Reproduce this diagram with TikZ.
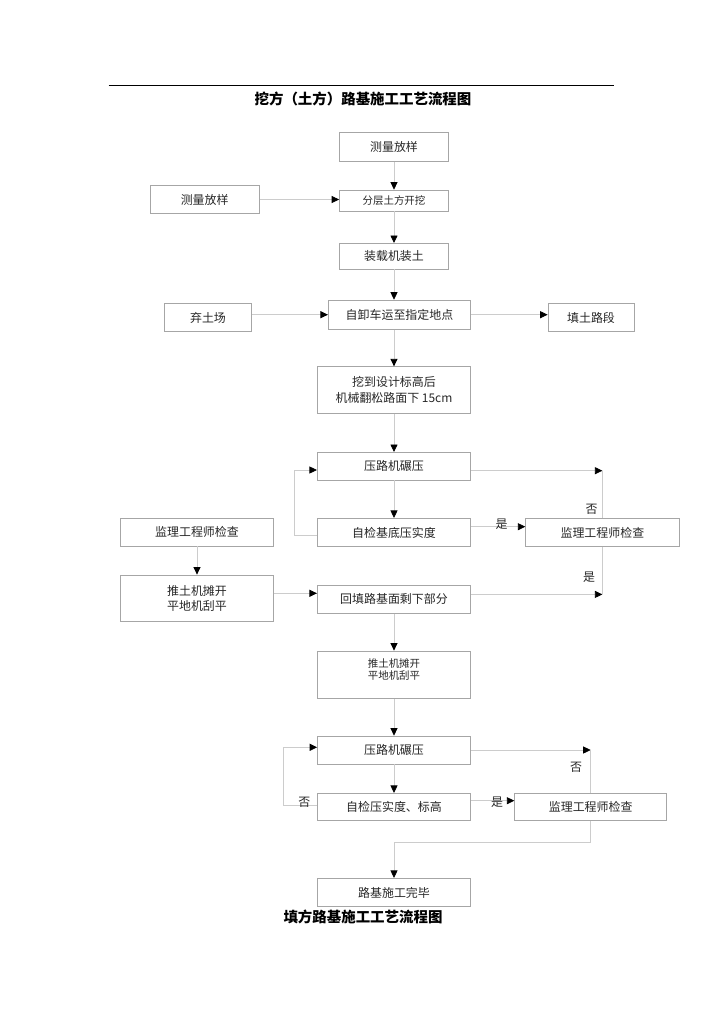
\documentclass[tikz,border=0pt]{standalone}
\usepackage{fontspec}
\setmainfont{Noto Sans CJK SC}
\usetikzlibrary{arrows.meta,positioning}

\begin{document}
\begin{tikzpicture}[x=1bp,y=-1bp,
    box/.style={draw=gray!70, line width=0.7bp, inner sep=0pt, align=center,
      text=black!85, font=\fontsize{12}{15.5}\selectfont},
    small/.style={font=\fontsize{10.5}{12}\selectfont},
    conn/.style={draw=gray!40, line width=0.8bp},
    arr/.style={conn, -{Triangle[length=7.5bp,width=7bp,color=black]}},
    lab/.style={text=black!85, font=\fontsize{12}{14}\selectfont},
    heading/.style={font=\fontsize{14.5}{16}\selectfont\bfseries}]
  \useasboundingbox (0,0) rectangle (724,1024);

  % titles
  \draw[line width=0.8bp] (108.6,85.6) -- (614,85.6);
  \node[heading] (title1) at (363,99) {挖方（土方）路基施工工艺流程图};
  \node[heading] (title2) at (363,916.7) {填方路基施工工艺流程图};

  % excavation part
  \node[box, minimum width=109bp, minimum height=29bp] (clfyA) at (394,147.2) {测量放样};
  \node[box, small, minimum width=109bp, minimum height=21bp] (fckw) at (394,200.5) {分层土方开挖};
  \node[box, minimum width=109bp, minimum height=27.6bp] (clfyB) at (204.7,199.5) {测量放样};
  \node[box, minimum width=109bp, minimum height=25.7bp] (zzjzt) at (394,256.2) {装载机装土};
  \node[box, minimum width=142.4bp, minimum height=29.3bp] (zxc) at (399.5,314.7) {自卸车运至指定地点};
  \node[box, minimum width=87.4bp, minimum height=28.4bp] (qtc) at (208,317.5) {弃土场};
  \node[box, minimum width=86bp, minimum height=28.4bp] (ttld) at (591,317.5) {填土路段};
  \node[box, minimum width=153.4bp, minimum height=46.6bp] (wdsj) at (394,390) {挖到设计标高后\\机械翻松路面下 15cm};
  \node[box, minimum width=153.4bp, minimum height=27.7bp] (ylA) at (394,466.2) {压路机碾压};
  \node[box, minimum width=153.4bp, minimum height=28.4bp] (zjA) at (394,532.5) {自检基底压实度};
  \node[box, minimum width=152.6bp, minimum height=27.7bp] (jlL) at (197,532.2) {监理工程师检查};
  \node[box, minimum width=153.4bp, minimum height=28.4bp] (jlR) at (602.4,532.5) {监理工程师检查};
  \node[box, minimum width=152.6bp, minimum height=46.7bp] (ttjL) at (197,598.3) {推土机摊开\\平地机刮平};
  \node[box, minimum width=153.4bp, minimum height=28.3bp] (htlj) at (394,599.2) {回填路基面剩下部分};

  % filling part
  \node[box, small, minimum width=153.4bp, minimum height=47.3bp] (ttjC) at (394,674.6) {推土机摊开\\平地机刮平\\\mbox{}};
  \node[box, minimum width=153bp, minimum height=28bp] (ylB) at (394,750) {压路机碾压};
  \node[box, minimum width=153bp, minimum height=27.4bp] (zjB) at (394,807) {自检压实度、标高};
  \node[box, minimum width=152bp, minimum height=27.4bp] (jlB) at (590.7,807) {监理工程师检查};
  \node[box, minimum width=153bp, minimum height=28.4bp] (wb) at (394,892.5) {路基施工完毕};

  \draw[arr] (clfyA) -- (fckw);
  \draw[arr] (clfyB.east) -- (clfyB.east -| fckw.west);
  \draw[arr] (fckw) -- (zzjzt);
  \draw[arr] (zzjzt) -- (zzjzt |- zxc.north);
  \draw[arr] (qtc.east |- zxc) -- (zxc.west);
  \draw[arr] (zxc.east) -- (zxc.east -| ttld.west);
  \draw[arr] (zxc.south -| wdsj) -- (wdsj);
  \draw[arr] (wdsj) -- (ylA);
  \draw[arr] (ylA) -- (zjA);
  \draw[arr] ([yshift=-2.5bp]zjA.west) -- ++(-23,0) |- ([yshift=-3.8bp]ylA.west);
  \draw[arr] ([yshift=-4.5bp]ylA.east) -- ([yshift=-4.5bp]ylA.east -| jlR);
  \draw[conn] (jlR.north) -- ([yshift=-4.5bp]ylA.east -| jlR);
  \node[lab] (noA) at (591.7,509.5) {否};
  \draw[arr] ([yshift=5.8bp]zjA.east) -- ([yshift=5.8bp]zjA.east -| jlR.west);
  \node[lab] (yesA) at (501.7,524.5) {是};
  \draw[conn] (jlR.south) -- ([yshift=4.8bp]htlj.east -| jlR);
  \draw[arr] ([yshift=4.8bp]htlj.east) -- ([yshift=4.8bp]htlj.east -| jlR);
  \node[lab] (yesB) at (589,577.5) {是};
  \draw[arr] (jlL) -- (ttjL);
  \draw[arr] ([yshift=5bp]ttjL.east) -- ([yshift=5bp]ttjL.east -| htlj.west);
  \draw[arr] (htlj) -- (ttjC);

  \draw[arr] (ttjC) -- (ylB);
  \draw[arr] (ylB) -- (zjB);
  \draw[arr] ([yshift=1.3bp]zjB.west) -- ++(-33.4,0) |- ([yshift=2.7bp]ylB.west);
  \node[lab] (noB) at (304.3,802.5) {否};
  \draw[arr] (ylB.east) -- (ylB.east -| jlB);
  \draw[conn] (jlB.north) -- (ylB.east -| jlB);
  \node[lab] (noC) at (576,767.5) {否};
  \draw[arr] ([yshift=6.3bp]zjB.east) -- ([yshift=6.3bp]zjB.east -| jlB.west);
  \node[lab] (yesC) at (497,802.5) {是};
  \draw[arr] (jlB.south) -- ++(0,21.6) -| (wb.north);
\end{tikzpicture}
\end{document}
